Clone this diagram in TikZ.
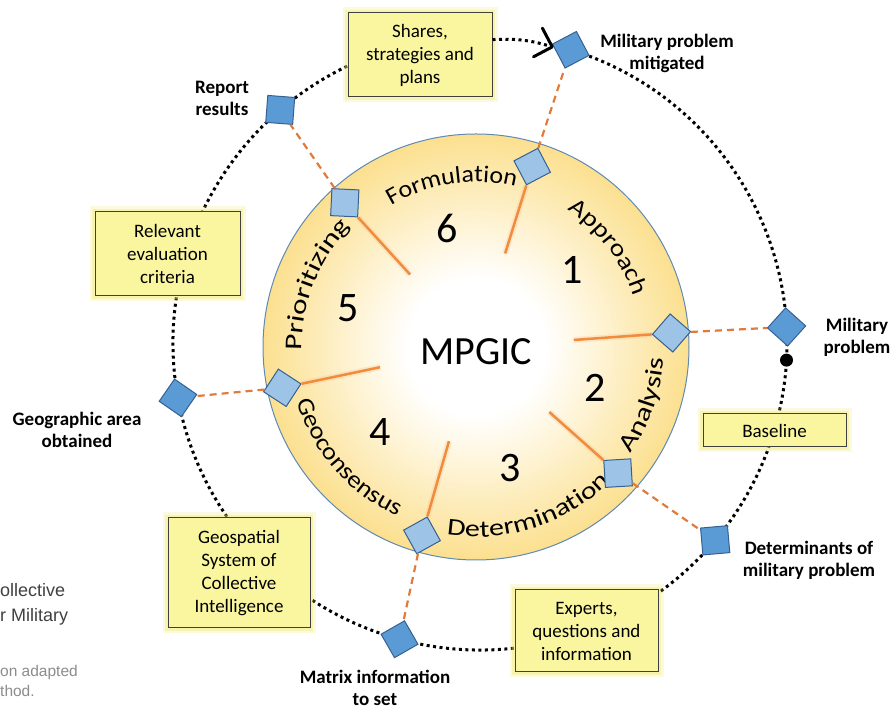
\documentclass[tikz,border=0pt]{standalone}
\usepackage{fontspec}
\usetikzlibrary{arrows.meta,calc,decorations.text}
\newfontfamily\calibrifont{Carlito}
\newfontfamily\capfont{Liberation Sans}

\definecolor{stageblue}{RGB}{157,195,230}
\definecolor{goalblue}{RGB}{91,155,213}
\definecolor{diamondedge}{RGB}{54,96,146}
\definecolor{linkorange}{RGB}{224,123,57}
\definecolor{spokeorange}{RGB}{240,140,60}
\definecolor{noteyellow}{RGB}{250,246,160}
\definecolor{noteglow}{RGB}{240,232,90}
\definecolor{noteedge}{RGB}{64,64,64}
\definecolor{discmid}{RGB}{252,226,150}
\definecolor{discedge}{RGB}{247,193,72}
\definecolor{discline}{RGB}{94,138,180}
\definecolor{captiondark}{RGB}{64,64,64}
\definecolor{captionlight}{RGB}{140,140,140}

\pgfdeclareradialshading{discshade}{\pgfpoint{0bp}{0bp}}{color(0bp)=(white); color(8bp)=(white); color(24bp)=(discmid); color(38bp)=(discedge); color(50bp)=(discedge)}

\tikzset{
  ringline/.style={line width=3pt, dash pattern=on 3pt off 3.5pt},
  linkline/.style={draw=linkorange, line width=2.2pt, dash pattern=on 7pt off 5pt},
  spokeline/.style={draw=spokeorange, line width=2.5pt, preaction={draw=spokeorange!60, line width=6pt, draw opacity=0.25}},
  stagebox/.style={rectangle, draw=diamondedge, fill=stageblue, line width=1pt, minimum size=27pt, inner sep=0pt},
  goalbox/.style={stagebox, fill=goalblue},
  notebox/.style={rectangle, draw=noteedge, fill=noteyellow, line width=1pt, align=center,
    font=\calibrifont\fontsize{19}{23}\selectfont,
    preaction={draw=noteglow, line width=11pt, draw opacity=0.2},
    preaction={draw=noteglow, line width=6pt, draw opacity=0.35}},
  tagtext/.style={align=center, font=\calibrifont\bfseries\fontsize{19}{22}\selectfont},
  numtext/.style={font=\calibrifont\fontsize{42}{42}\selectfont},
  arcword/.style 2 args={decorate, decoration={text along path, text align=center,
    text={|\calibrifont\fontsize{24}{24}\selectfont\addfontfeature{FakeStretch=#2}|#1}}},
}

\begin{document}
\begin{tikzpicture}[x=1pt, y=1pt]
\useasboundingbox (0,0) rectangle (895,711);
\coordinate (I) at (476,364);
\coordinate (O) at (480,368);

% outer dotted ring
\draw[ringline] (O) ++(72.8:307) arc[start angle=72.8, end angle=-270, radius=307];

% the disc
\shade[shading=discshade] (I) circle (213);
\draw[draw=discline, line width=1pt] (I) circle (213);

% phase names round the rim
\path[arcword={Formulation}{1.08}] (I) ++(148.5:165) arc[start angle=148.5, end angle=48.5, radius=165];
\path[arcword={Approach}{1.17}] (I) ++(87:165) arc[start angle=87, end angle=-13, radius=165];
\path[arcword={Prioritizing}{1.3}] (I) ++(208.6:174) arc[start angle=208.6, end angle=108.6, radius=174];
\path[arcword={Analysis}{1.3}] (I) ++(-69:188) arc[start angle=-69, end angle=31, radius=188];
\path[arcword={Determination}{1.25}] (I) ++(-122:190) arc[start angle=-122, end angle=-22, radius=190];
\path[arcword={Geoconsensus}{1.12}] (I) ++(171:187) arc[start angle=171, end angle=271, radius=187];

\node[numtext] (n1) at (572,441) {1};
\node[numtext] (n2) at (595,323) {2};
\node[numtext] (n3) at (510,243) {3};
\node[numtext] (n4) at (380,279) {4};
\node[numtext] (n5) at (348,403) {5};
\node[numtext] (n6) at (447,483) {6};
\node[font=\calibrifont\fontsize{40}{40}\selectfont] (hub) at (476,359) {MPGIC};

% markers on the disc
\node[stagebox, rotate=27.7] (gate1) at ($(I)+(72.7:189)$) {};
\node[stagebox, rotate=-40.9] (gate2) at ($(I)+(4.1:196)$) {};
\node[stagebox, rotate=-86.6] (gate3) at ($(I)+(-41.6:190)$) {};
\node[stagebox, rotate=-151] (gate4) at ($(I)+(-106:196)$) {};
\node[stagebox, rotate=146.9] (gate5) at ($(I)+(191.9:198)$) {};
\node[stagebox, rotate=87.3] (gate6) at ($(I)+(132.3:195)$) {};

% markers on the ring
\node[goalbox, rotate=27.8] (mitigated) at ($(O)+(72.8:307)$) {};
\node[goalbox, rotate=-42] (problem) at ($(O)+(3:307)$) {};
\node[goalbox, rotate=-85] (determinants) at ($(O)+(-40:307)$) {};
\node[goalbox, rotate=-150.2] (matrix) at ($(O)+(-105.2:307)$) {};
\node[goalbox, rotate=145.3] (area) at ($(O)+(190.3:307)$) {};
\node[goalbox, rotate=85.6] (report) at ($(O)+(130.6:307)$) {};
\node[circle, fill=black, minimum size=13pt, inner sep=0pt] (start) at ($(O)+(-3.2:307)$) {};

\draw[spokeline] (gate1) -- ($(I)+(72.7:98)$);
\draw[spokeline] (gate2) -- ($(I)+(4.1:98)$);
\draw[spokeline] (gate3) -- ($(I)+(-41.6:98)$);
\draw[spokeline] (gate4) -- ($(I)+(-106:98)$);
\draw[spokeline] (gate5) -- ($(I)+(191.9:98)$);
\draw[spokeline] (gate6) -- ($(I)+(132.3:98)$);

\draw[linkline] (gate1) -- (mitigated);
\draw[linkline] (gate2) -- (problem);
\draw[linkline] (gate3) -- (determinants);
\draw[linkline] (gate4) -- (matrix);
\draw[linkline] (gate5) -- (area);
\draw[linkline] (gate6) -- (report);

% boxes sitting on the ring
\node[notebox, minimum width=144pt, minimum height=84pt] (shares) at (420,656) {Shares,\\strategies and\\plans};
\node[notebox, minimum width=145pt, minimum height=84pt] (criteria) at (167.5,457) {Relevant\\evaluation\\criteria};
\node[notebox, minimum width=142pt, minimum height=110pt] (geosystem) at (239,138) {Geospatial\\System of\\Collective\\Intelligence};
\node[notebox, minimum width=143pt, minimum height=82pt] (experts) at (586.5,80) {Experts,\\questions and\\information};
\node[notebox, minimum width=143pt, minimum height=33pt] (baseline) at (774.5,280.5) {Baseline};

\draw[ringline, -{Straight Barb[length=15pt, width=30pt, line width=3pt, round]}] (shares) to[bend left=10] (mitigated);

\node[tagtext] (lblmitigated) at (667,658) {Military problem\\mitigated};
\node[tagtext] (lblproblem) at (857,374) {Military\\problem};
\node[tagtext] (lbldeterminants) at (809,151) {Determinants of\\military problem};
\node[tagtext] (lblmatrix) at (375,23) {Matrix information\\to set};
\node[tagtext] (lblarea) at (77,281) {Geographic area\\obtained};
\node[tagtext] (lblreport) at (222,613) {Report\\results};

\node[anchor=base west, inner sep=0pt, text=captiondark, font=\capfont\fontsize{18}{18}\selectfont] (cap1) at (0,114) {ollective};
\node[anchor=base west, inner sep=0pt, text=captiondark, font=\capfont\fontsize{18}{18}\selectfont] (cap2) at (0,89) {r Military};
\node[anchor=base west, inner sep=0pt, text=captionlight, font=\capfont\fontsize{15.5}{15.5}\selectfont] (cap3) at (0,34) {on adapted};
\node[anchor=base west, inner sep=0pt, text=captionlight, font=\capfont\fontsize{15.5}{15.5}\selectfont] (cap4) at (0,14) {thod.};
\end{tikzpicture}
\end{document}
